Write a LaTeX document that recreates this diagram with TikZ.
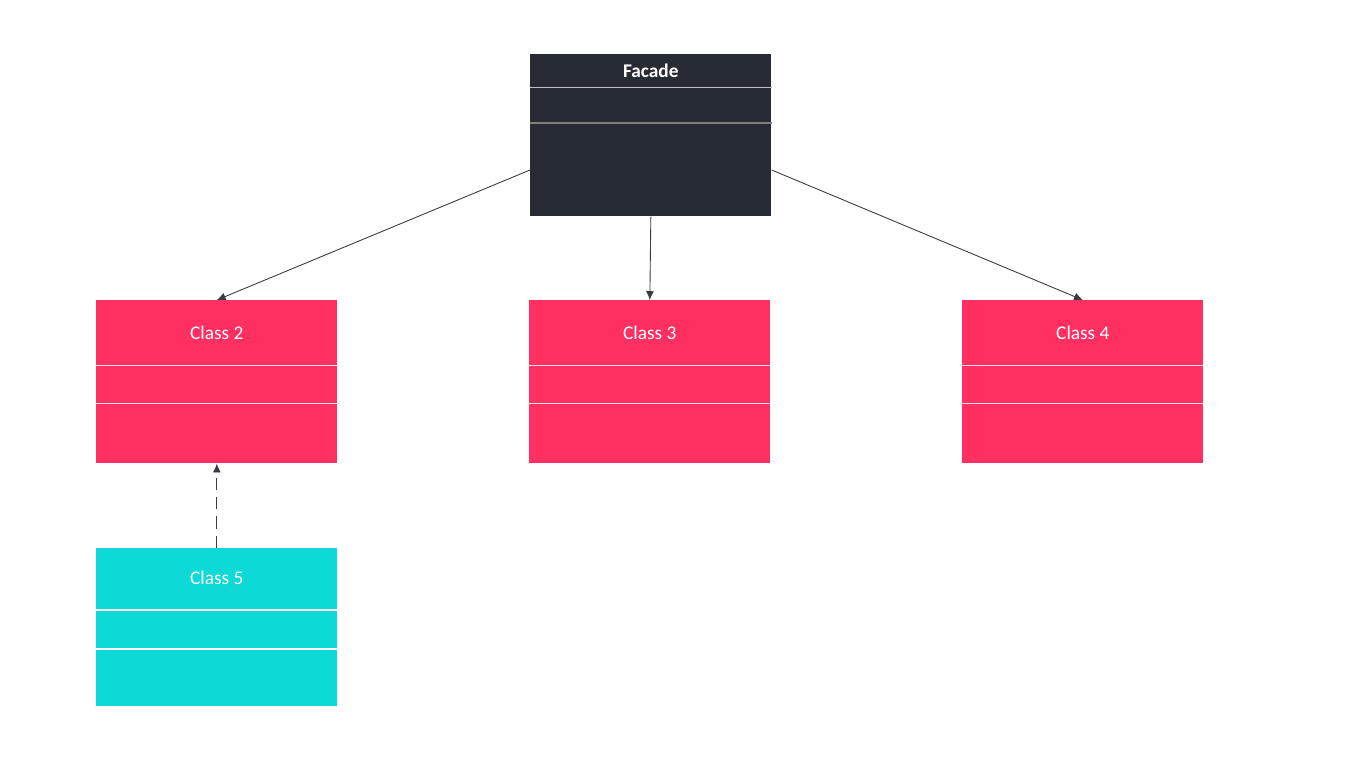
\documentclass[tikz,border=0pt]{standalone}
\usepackage{fontspec}
\setmainfont{Carlito}
\usetikzlibrary{arrows.meta}
\usetikzlibrary{calc}
\definecolor{facadegray}{HTML}{272B34}
\definecolor{classpink}{HTML}{FF2F62}
\definecolor{classcyan}{HTML}{0DD9D6}
\definecolor{linkgray}{HTML}{3B3A42}

\tikzset{
  classbox/.style={rectangle,anchor=north west,inner sep=0pt,minimum width=4.82cm,minimum height=3.26cm},
  classname/.style={text=white,font=\fontsize{11}{13}\selectfont},
  sepline/.style={draw=white!85!classpink,line width=0.5pt},
  link/.style={draw=linkgray,line width=0.5pt,->},
}

\begin{document}
\begin{tikzpicture}[x=0.02cm,y=-0.02cm,>={Latex[length=5pt,width=4.5pt]}]
			\useasboundingbox[fill=white](0,0)rectangle(1365,768);
			\node[classbox,fill=facadegray,minimum height=3.24cm](f)at(530,54){};
			\node[classbox,fill=classpink](c2)at(96,300){};
			\node[classbox,fill=classpink](c3)at(529,300){};
			\node[classbox,fill=classpink](c4)at(962,300){};
			\node[classbox,fill=classcyan,minimum height=3.16cm](c5)at(96,548){};
			\node[classname,font=\bfseries\fontsize{11}{13}\selectfont]at($(f.north)+(0,17)$){Facade};
			\node[classname]at($(c2.north)+(0,33)$){Class 2};
			\node[classname]at($(c3.north)+(0,33)$){Class 3};
			\node[classname]at($(c4.north)+(0,33)$){Class 4};
			\node[classname]at($(c5.north)+(0,30)$){Class 5};
			\draw[draw=white!70!facadegray,line width=0.4pt]($(f.north west)+(0,33)$)--($(f.north east)+(0,33)$);
			\draw[draw=gray,line width=1pt]($(f.north west)+(0,69)$)--($(f.north east)+(0,69)$);
			\draw[sepline]($(c2.north west)+(0,65)$)--($(c2.north east)+(0,65)$);
			\draw[sepline]($(c2.north west)+(0,103)$)--($(c2.north east)+(0,103)$);
			\draw[sepline]($(c3.north west)+(0,65)$)--($(c3.north east)+(0,65)$);
			\draw[sepline]($(c3.north west)+(0,103)$)--($(c3.north east)+(0,103)$);
			\draw[sepline]($(c4.north west)+(0,65)$)--($(c4.north east)+(0,65)$);
			\draw[sepline]($(c4.north west)+(0,103)$)--($(c4.north east)+(0,103)$);
			\draw[draw=white,line width=1.4pt]($(c5.north west)+(0,62)$)--($(c5.north east)+(0,62)$);
			\draw[draw=white,line width=1.4pt]($(c5.north west)+(0,101)$)--($(c5.north east)+(0,101)$);
			\coordinate(fl)at($(f.north west)+(0,116)$);
			\coordinate(fr)at($(f.north east)+(0,116)$);
			\draw[link](fl)--(c2.north);
			\draw[link](f.south)--(c3.north);
			\draw[link](fr)--(c4.north);
			\draw[link,dash pattern=on 7pt off 4pt](c5.north)--(c2.south);
		\end{tikzpicture}
\end{document}
